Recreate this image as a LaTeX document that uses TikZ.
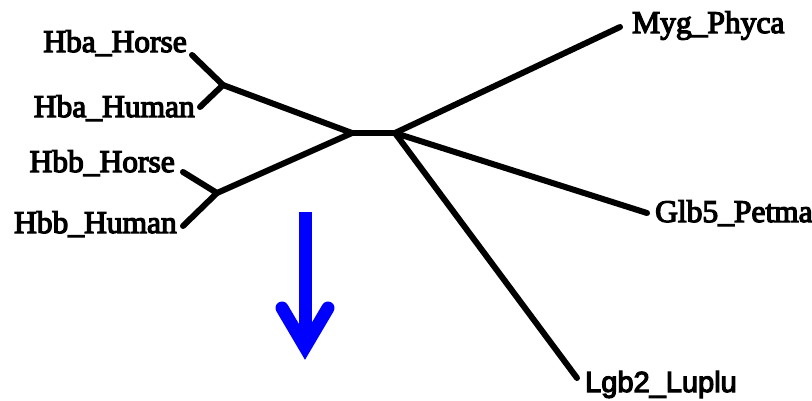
\documentclass[tikz,border=0pt]{standalone}
\usepackage{fontspec}
\newfontfamily\leaffont{Liberation Serif}[FakeBold=4]
\newfontfamily\leafsans{Liberation Sans}[FakeBold=4]
\begin{document}
\begin{tikzpicture}[x=1pt,y=-1pt,
  branch/.style={line width=6pt,line cap=round,line join=round,black},
  leaf/.style={inner sep=0pt,font=\leaffont\fontsize{31.5}{31.5}\selectfont},
  leafsf/.style={inner sep=0pt,font=\leafsans\fontsize{29}{29}\selectfont},
  bluearrow/.style={line width=13pt,draw={rgb,255:red,0;green,0;blue,255}}]
\useasboundingbox (0,0) rectangle (812,400);

% internal nodes of the unrooted tree
\coordinate (A) at (223,85);
\coordinate (B) at (217,193);
\coordinate (C) at (352,133);
\coordinate (D) at (395,133);

% tips of the leaf branches
\coordinate (tHbaHorse) at (192,55);
\coordinate (tHbaHuman) at (200,107);
\coordinate (tHbbHorse) at (183,172);
\coordinate (tHbbHuman) at (183,226);
\coordinate (tMyg) at (620,27);
\coordinate (tGlb) at (647,213);
\coordinate (tLgb) at (577,378);

% leaf labels
\node[leaf,anchor=base east] (lHbaHorse) at (187,52) {Hba\_Horse};
\node[leaf,anchor=base east] (lHbaHuman) at (195,117) {Hba\_Human};
\node[leaf,anchor=base east] (lHbbHorse) at (175,172) {Hbb\_Horse};
\node[leaf,anchor=base east] (lHbbHuman) at (177,233) {Hbb\_Human};
\node[leaf,anchor=base west] (lMyg) at (632,33) {Myg\_Phyca};
\node[leaf,anchor=base west] (lGlb) at (655,222) {Glb5\_Petma};
\node[leafsf,anchor=base west] (lLgb) at (585,392) {Lgb2\_Luplu};

% branches
\draw[branch] (tHbaHorse) -- (A) -- (tHbaHuman);
\draw[branch] (tHbbHorse) -- (B) -- (tHbbHuman);
\draw[branch] (A) -- (C) -- (B);
\draw[branch] (C) -- (D);
\draw[branch] (D) -- (tMyg);
\draw[branch] (D) -- (tGlb);
\draw[branch] (D) -- (tLgb);

% downward arrow
\coordinate (arTop) at (305,212);
\coordinate (arBot) at (305,345);
\coordinate (arL) at (282,308);
\coordinate (arV) at (305,347);
\coordinate (arR) at (328,308);
\draw[bluearrow,line cap=butt] (arTop) -- (arBot);
\draw[bluearrow,line cap=round,line join=miter,miter limit=10] (arL) -- (arV) -- (arR);
\end{tikzpicture}
\end{document}
